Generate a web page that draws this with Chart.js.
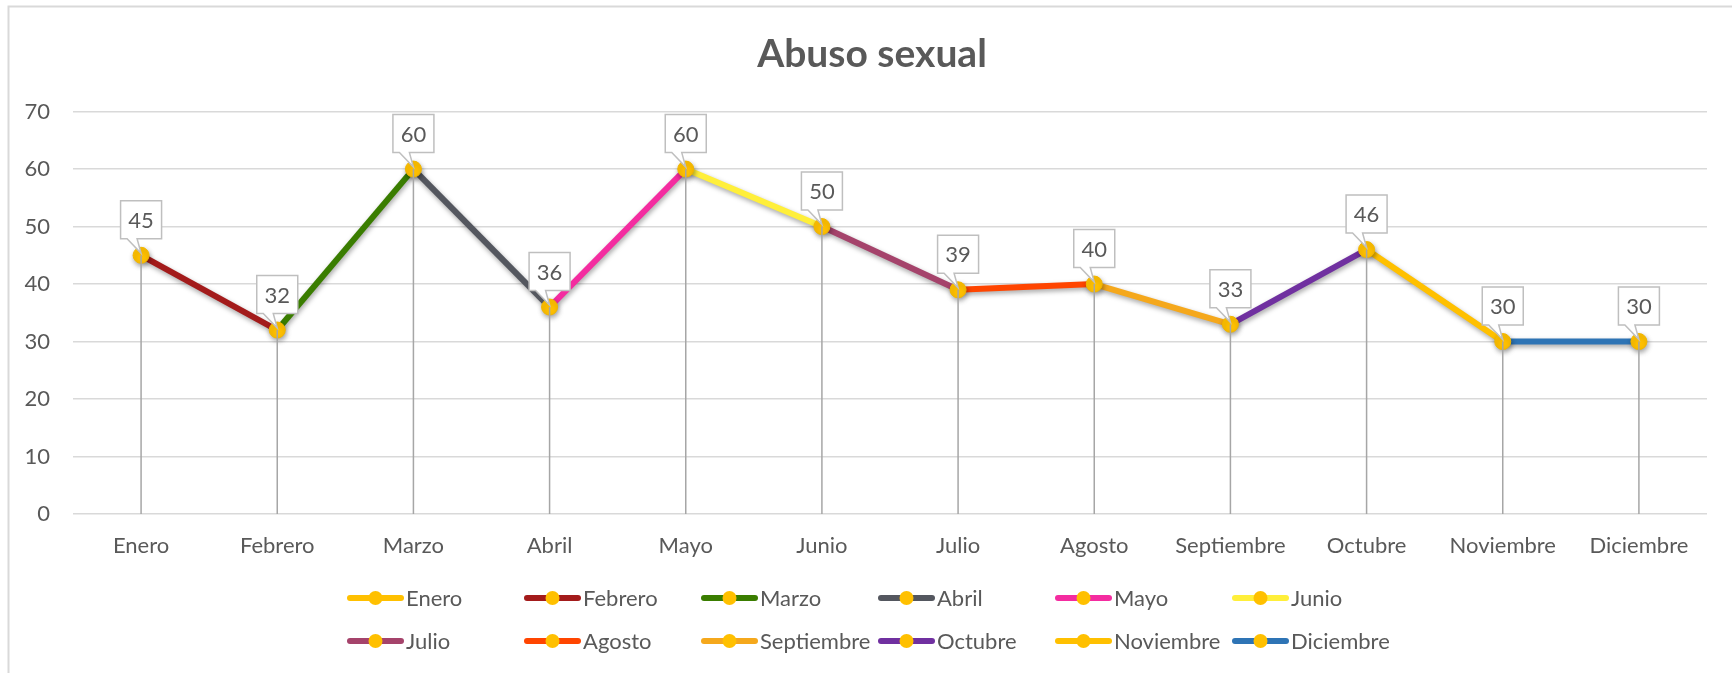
<!DOCTYPE html>
<html>
<head>
<meta charset="utf-8">
<script src="https://cdn.jsdelivr.net/npm/chart.js@4.4.1/dist/chart.umd.min.js"></script>
<style>
  html, body { margin: 0; padding: 0; background: #fff; }
  #wrap { position: relative; width: 1732px; height: 673px; }
  canvas { display: block; }
</style>
</head>
<body>
<div id="wrap"><canvas id="c" width="1732" height="673"></canvas></div>
<script>
// ---- data ----
const chartTitle = 'Abuso sexual';
const months = ['Enero','Febrero','Marzo','Abril','Mayo','Junio','Julio','Agosto','Septiembre','Octubre','Noviembre','Diciembre'];
const values = [45, 32, 60, 36, 60, 50, 39, 40, 33, 46, 30, 30];
const monthColors = ['#FFC000','#A31B1B','#3A7D00','#54575F','#F42CA0','#FFEF3A','#A5436B','#FF4500','#F5A81C','#7030A0','#FFC000','#2E74B5'];
const markerColor = '#FFC000';
const yTicks = [0, 10, 20, 30, 40, 50, 60, 70];

const TXT = '#595959';
const FONT = "Lato, 'Open Sans', sans-serif";
Chart.defaults.font.family = FONT;
Chart.defaults.color = TXT;

const frame = {
  id: 'frame',
  beforeDraw(chart) {
    const c = chart.ctx;
    c.save();
    c.fillStyle = '#fff';
    c.fillRect(0, 0, chart.width, chart.height);
    c.strokeStyle = '#D9D9D9';
    c.lineWidth = 2;
    c.beginPath();
    c.moveTo(8.5, chart.height);
    c.lineTo(8.5, 6.5);
    c.lineTo(chart.width, 6.5);
    c.stroke();
    // title
    c.font = 'bold 39px ' + FONT;
    c.fillStyle = TXT;
    c.textAlign = 'center';
    c.textBaseline = 'alphabetic';
    c.fillText(chartTitle, 872, 67);
    c.restore();
  }
};

const shadow = {
  id: 'shadow',
  beforeDatasetsDraw(chart) {
    const c = chart.ctx;
    c.save();
    c.shadowColor = 'rgba(0,0,0,0.35)';
    c.shadowBlur = 5;
    c.shadowOffsetX = 1;
    c.shadowOffsetY = 2.5;
  },
  afterDatasetsDraw(chart) {
    chart.ctx.restore();
  }
};

const decorations = {
  id: 'decorations',
  afterDatasetsDraw(chart) {
    const c = chart.ctx;
    const meta = chart.getDatasetMeta(0);
    const y0 = chart.scales.y.getPixelForValue(0);
    // drop lines
    c.save();
    c.strokeStyle = '#A6A6A6';
    c.lineWidth = 1.5;
    meta.data.forEach(p => {
      c.beginPath();
      c.moveTo(p.x, p.y);
      c.lineTo(p.x, y0);
      c.stroke();
    });
    // callouts
    const w = 41, h = 38;
    c.font = '22px ' + FONT;
    c.textAlign = 'center';
    c.textBaseline = 'middle';
    meta.data.forEach((p, i) => {
      const left = p.x - 20.5, right = left + w;
      const bottom = p.y - 16.5, top = bottom - h;
      c.beginPath();
      c.moveTo(left, top);
      c.lineTo(right, top);
      c.lineTo(right, bottom);
      c.lineTo(p.x - 4, bottom);
      c.lineTo(p.x, p.y - 2);
      c.lineTo(p.x - 14, bottom);
      c.lineTo(left, bottom);
      c.closePath();
      c.fillStyle = '#fff';
      c.fill();
      c.strokeStyle = '#BFBFBF';
      c.lineWidth = 1.5;
      c.stroke();
      c.fillStyle = TXT;
      c.fillText(String(values[i]), (left + right) / 2, (top + bottom) / 2 + 1);
    });
    c.restore();
  }
};

const customLegend = {
  id: 'customLegend',
  afterDraw(chart) {
    const c = chart.ctx;
    c.save();
    c.font = '22px ' + FONT;
    c.textAlign = 'left';
    c.textBaseline = 'middle';
    months.forEach((m, i) => {
      const col = i % 6, row = Math.floor(i / 6);
      const x0 = 347 + col * 177;
      const y = 598 + row * 43;
      c.strokeStyle = monthColors[i];
      c.lineWidth = 6;
      c.lineCap = 'round';
      c.beginPath();
      c.moveTo(x0 + 3, y);
      c.lineTo(x0 + 54, y);
      c.stroke();
      c.beginPath();
      c.arc(x0 + 28.5, y, 7, 0, Math.PI * 2);
      c.fillStyle = markerColor;
      c.fill();
      c.fillStyle = TXT;
      c.fillText(m, x0 + 59, y + 1);
    });
    c.restore();
  }
};

new Chart(document.getElementById('c'), {
  type: 'line',
  data: {
    labels: months,
    datasets: [{
      label: chartTitle,
      data: values,
      borderWidth: 6,
      borderColor: monthColors[1],
      segment: {
        borderColor: ctx => monthColors[ctx.p1DataIndex]
      },
      pointRadius: 8,
      pointHoverRadius: 8,
      pointBackgroundColor: markerColor,
      pointBorderColor: '#F2B600',
      pointBorderWidth: 1,
      tension: 0,
      fill: false
    }]
  },
  options: {
    responsive: false,
    devicePixelRatio: 1,
    animation: false,
    events: [],
    layout: { padding: { left: 0, right: 25, top: 111.6, bottom: 0 } },
    plugins: {
      legend: { display: false },
      tooltip: { enabled: false },
      title: { display: false }
    },
    scales: {
      x: {
        offset: true,
        grid: { display: false },
        border: { display: false },
        ticks: { color: TXT, font: { size: 22 }, padding: 11, maxRotation: 0, autoSkip: false },
        afterFit(scale) { scale.height = 159; }
      },
      y: {
        min: 0,
        max: 70,
        afterBuildTicks(scale) { scale.ticks = yTicks.map(v => ({ value: v })); },
        grid: { color: '#D9D9D9', lineWidth: 1.5, drawTicks: false },
        border: { display: false },
        ticks: { color: TXT, font: { size: 22 }, padding: 23 },
        afterFit(scale) { scale.width = 73; }
      }
    }
  },
  plugins: [frame, shadow, decorations, customLegend]
});
</script>
</body>
</html>
